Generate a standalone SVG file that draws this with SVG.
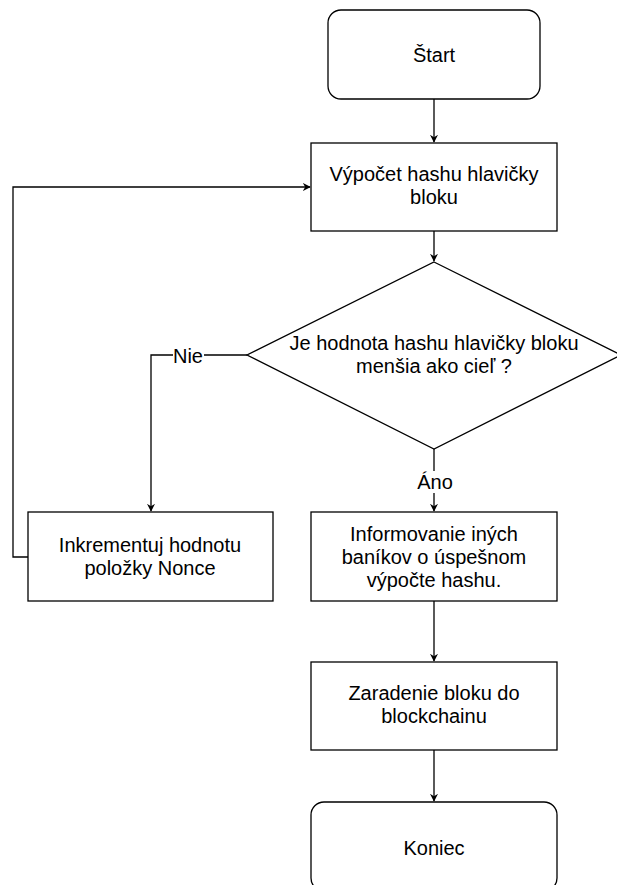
<svg xmlns="http://www.w3.org/2000/svg" width="617" height="885" viewBox="0 0 617 885">
<defs>
<style>
.n{fill:#fff;stroke:#000;stroke-width:1.3}
.e{fill:none;stroke:#000;stroke-width:1.3}
text{font-family:"Liberation Sans",Arial,sans-serif;font-size:20px;fill:#000;text-anchor:middle}
</style>
<marker id="a" viewBox="0 0 10 10" refX="9" refY="5" markerWidth="8" markerHeight="8" markerUnits="userSpaceOnUse" orient="auto">
<path d="M0,0 L10,5 L0,10 L3,5 Z" fill="#000"/>
</marker>
</defs>
<rect width="617" height="885" fill="#fff"/>
<g id="connectors">
<path class="e" d="M434,99 V142" marker-end="url(#a)"/>
<path class="e" d="M434,231 V261" marker-end="url(#a)"/>
<path class="e" d="M434,449 V511" marker-end="url(#a)"/>
<path class="e" d="M434,601 V661" marker-end="url(#a)"/>
<path class="e" d="M434,750 V801" marker-end="url(#a)"/>
<path class="e" d="M247,355 H151 V511" marker-end="url(#a)"/>
<path class="e" d="M28,557 H13 V187 H310" marker-end="url(#a)"/>
<rect x="418" y="471" width="33" height="22" fill="#fff"/>
<text x="435" y="489">Áno</text>
<rect x="173" y="346" width="31" height="20" fill="#fff"/>
<text x="188" y="363">Nie</text>
</g>
<g id="start">
<rect class="n" x="328" y="10" width="212" height="89" rx="13"/>
<text x="434" y="62">Štart</text>
</g>
<g id="hash">
<rect class="n" x="311" y="143" width="246" height="88"/>
<text x="434" y="181">Výpočet hashu hlavičky</text>
<text x="434" y="204">bloku</text>
</g>
<g id="decision">
<polygon class="n" points="434,262 621,355 434,449 247,355"/>
<text x="434" y="350">Je hodnota hashu hlavičky bloku</text>
<text x="434" y="373">menšia ako cieľ ?</text>
</g>
<g id="nonce">
<rect class="n" x="28" y="512" width="245" height="89"/>
<text x="150" y="552">Inkrementuj hodnotu</text>
<text x="150" y="575">položky Nonce</text>
</g>
<g id="inform">
<rect class="n" x="311" y="512" width="246" height="89"/>
<text x="434" y="541">Informovanie iných</text>
<text x="434" y="564">baníkov o úspešnom</text>
<text x="434" y="587">výpočte hashu.</text>
</g>
<g id="zaradenie">
<rect class="n" x="311" y="662" width="246" height="88"/>
<text x="434" y="700">Zaradenie bloku do</text>
<text x="434" y="723">blockchainu</text>
</g>
<g id="koniec">
<rect class="n" x="311" y="802" width="246" height="89" rx="13"/>
<text x="434" y="855">Koniec</text>
</g>
</svg>
